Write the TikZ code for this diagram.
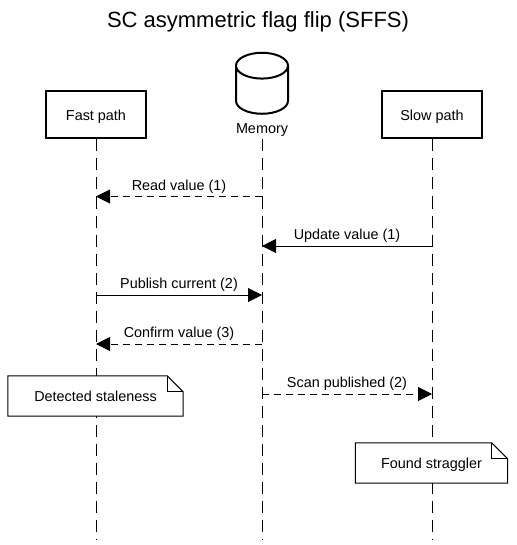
\documentclass[tikz,border=0pt]{standalone}
\usepackage{xcolor}
\usepackage{fontspec}
\setmainfont{Liberation Sans}
\usetikzlibrary{shapes.geometric, arrows.meta, positioning}
\newcommand{\labelfont}{\fontsize{14.4}{16}\selectfont}
\tikzset{
  actor/.style={rectangle, draw=black, line width=2pt, fill=white, text=black, text depth=0pt,
                minimum height=47pt, minimum width=100pt, align=center, font=\labelfont},
  store/.style={cylinder, shape border rotate=90, aspect=5.4, draw=black, line width=2pt, fill=white,
                minimum height=61pt, minimum width=52pt, inner sep=1pt},
  lifeline/.style={draw=black, line width=1pt, dash pattern=on 12pt off 7pt},
  syncmsg/.style={-{Triangle[length=14pt, width=14pt]}, draw=black, line width=1pt},
  replymsg/.style={syncmsg, dash pattern=on 7pt off 5pt},
  msglabel/.style={midway, above=2pt, font=\labelfont, inner sep=1pt},
  notebox/.style={rectangle, fill=white, text depth=0pt, minimum height=40pt, font=\labelfont},
  noteline/.style={draw=black, line width=1pt, line join=miter}
}
\newcommand{\notefold}[1]{%
  \draw[noteline] (#1.north west) -- ([xshift=-16pt]#1.north east) -- ([yshift=-16pt]#1.north east)
    -- (#1.south east) -- (#1.south west) -- cycle;
  \draw[noteline] ([xshift=-16pt]#1.north east) |- ([yshift=-16pt]#1.north east);
}

\begin{document}
\begin{tikzpicture}[x=1pt, y=-1pt]
  \useasboundingbox (0,0) rectangle (516,545);
  \node[font=\fontsize{22}{26}\selectfont] (title) at (258,22) {SC asymmetric flag flip (SFFS)};

  % participants
  \node[actor] (fast) at (96,115) {Fast path};
  \node[actor, right=234pt of fast] (slow) {Slow path};
  \node[store] (mem) at (262,92) {\phantom{.}};
  \node[below=9pt of mem, font=\labelfont, inner sep=0pt] (memlabel) {Memory};

  % lifelines
  \coordinate (memstart) at (mem |- fast.south);
  \coordinate (fastend) at (fast |- 0,540);
  \coordinate (memend) at (mem |- 0,540);
  \coordinate (slowend) at (slow |- 0,540);
  \draw[lifeline] (fast.south) -- (fastend);
  \draw[lifeline] (memstart) -- (memend);
  \draw[lifeline] (slow.south) -- (slowend);

  % message rows
  \foreach \row/\ypos in {1/196.5, 2/246, 3/295, 4/344, 5/394} {
    \coordinate (fast\row) at (fast |- 0,\ypos);
    \coordinate (mem\row) at (mem |- 0,\ypos);
    \coordinate (slow\row) at (slow |- 0,\ypos);
  }
  \draw[replymsg] (mem1) -- node[msglabel] {Read value (1)} (fast1);
  \draw[syncmsg] (slow2) -- node[msglabel] {Update value (1)} (mem2);
  \draw[syncmsg] (fast3) -- node[msglabel] {Publish current (2)} (mem3);
  \draw[replymsg] (mem4) -- node[msglabel] {Confirm value (3)} (fast4);
  \draw[replymsg] (mem5) -- node[msglabel] {Scan published (2)} (slow5);

  % notes
  \node[notebox, minimum width=175pt] (stale) at (95.5,396) {Detected staleness};
  \notefold{stale}
  \node[notebox, minimum width=152pt] (straggler) at (431.5,463) {Found straggler};
  \notefold{straggler}
\end{tikzpicture}
\end{document}
